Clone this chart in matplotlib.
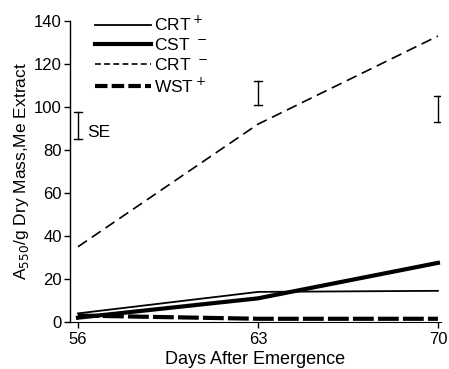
import matplotlib
matplotlib.use("Agg")
import matplotlib.pyplot as plt
from matplotlib.lines import Line2D

plt.rcParams['font.family'] = ['Liberation Sans', 'DejaVu Sans']

days = [56, 63, 70]
crt_plus = [4, 14, 14.5]
cst_minus = [2, 11, 27.5]
crt_minus = [35, 92, 133]
wst_plus = [3, 1.5, 1.5]

se_x = [56, 63, 70]
se_low = [85, 101, 93]
se_high = [97.5, 112, 105]

xticks = [56, 63, 70]
yticks = [0, 20, 40, 60, 80, 100, 120, 140]

fig = plt.figure(figsize=(4.49, 3.69), dpi=100)
ax = fig.add_axes([70/449, 47/369, (441-70)/449, (322-21)/369])

ax.plot(days, crt_minus, color='black', lw=1.2, linestyle=(0, (6.5, 3.5)))
ax.plot(days, crt_plus, color='black', lw=1.3)
ax.plot(days, cst_minus, color='black', lw=3.0)
ax.plot(days, wst_plus, color='black', lw=3.0, linestyle=(0, (5, 1)))

for x, lo, hi in zip(se_x, se_low, se_high):
    ax.plot([x, x], [lo, hi], color='black', lw=1.0)
    ax.plot([x - 0.15, x + 0.15], [lo, lo], color='black', lw=1.0)
    ax.plot([x - 0.15, x + 0.15], [hi, hi], color='black', lw=1.0)
ax.text(56.35, 88, 'SE', fontsize=12.5, va='center', ha='left')

legend_labels = ['CRT$^+$', 'CST $^-$', 'CRT $^-$', 'WST$^+$']
legend_styles = [dict(lw=1.3), dict(lw=3.0), dict(lw=1.2, linestyle=(0, (3.5, 2))),
                 dict(lw=3.0, linestyle=(0, (3, 1)))]
handles = [Line2D([], [], color='black', **s) for s in legend_styles]
ax.legend(handles, legend_labels, loc='upper left', bbox_to_anchor=(0.05, 1.045),
          frameon=False, fontsize=12.5, handlelength=3.2, handletextpad=0.15,
          labelspacing=0.2, borderaxespad=0)

ax.set_xlim(55.69, 70.12)
ax.set_ylim(0, 140)
ax.set_xticks(xticks)
ax.set_yticks(yticks)
ax.tick_params(axis='both', direction='out', length=4, width=1, labelsize=12, pad=2)
ax.tick_params(axis='x', pad=3)
ax.spines['top'].set_visible(False)
ax.spines['right'].set_visible(False)
ax.spines['left'].set_linewidth(1.0)
ax.spines['bottom'].set_linewidth(0.8)

ax.set_xlabel('Days After Emergence', fontsize=13, labelpad=3)
ax.set_ylabel('A$_{550}$/g Dry Mass,Me Extract', fontsize=12.5, labelpad=2)

fig.savefig('out.png', dpi=100)
